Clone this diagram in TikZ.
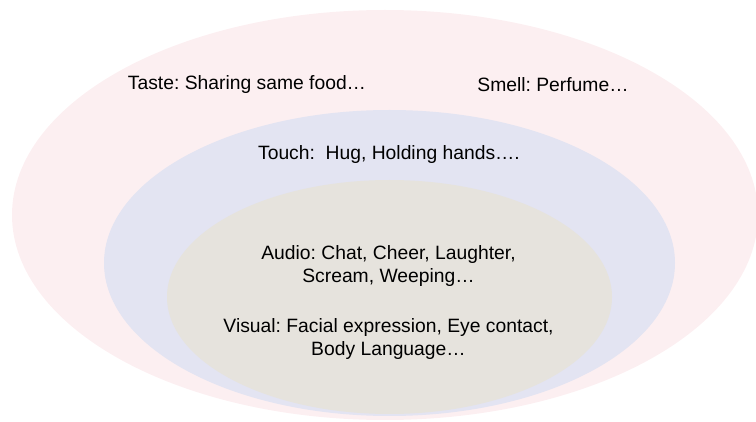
\documentclass[tikz,border=0pt]{standalone}
\usepackage{fontspec}
\setmainfont{Liberation Sans}
\usepackage{tikz}
\frenchspacing
\definecolor{tastepink}{HTML}{FCEFF1}
\definecolor{touchblue}{HTML}{E3E4F2}
\definecolor{nearbeige}{HTML}{E6E3DD}
\tikzset{sense/.style={align=center, inner sep=0pt, font=\fontsize{19.3}{23}\selectfont}}

\begin{document}
\begin{tikzpicture}[x=1pt, y=-1pt]
		%%%%% START %%%%%
		\useasboundingbox (0, 0) rectangle (756, 422);
		
		% outer ring: taste and smell
		\fill[tastepink] (385, 215) ellipse (373 and 205);
		% middle ring: touch
		\fill[touchblue] (389.5, 263) ellipse (285.5 and 153);
		% inner ring: audio and visual
		\fill[nearbeige] (389.5, 297) ellipse (222.5 and 117);
		
		\node[sense] (taste) at (247, 85) {Taste: Sharing same food…};
		\node[sense] (smell) at (553, 85) {Smell: Perfume…};
		
		\node[sense] (touch) at (389, 155) {Touch:\ \ Hug, Holding hands….};
		
		\node[sense] (audio) at (388.5, 266) {Audio: Chat, Cheer, Laughter,\\Scream, Weeping…};
		\node[sense] (visual) at (388.5, 339.5) {Visual: Facial expression, Eye contact,\\Body Language…};
		
		%%%%% END %%%%%
	\end{tikzpicture}
\end{document}
